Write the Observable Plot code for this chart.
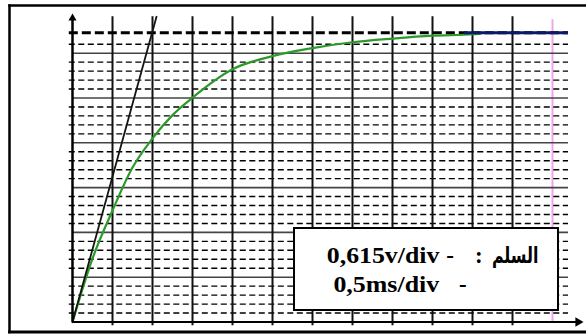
<!DOCTYPE html>
<html><head><meta charset="utf-8">
<script src="https://cdn.jsdelivr.net/npm/d3@7"></script>
<script src="https://cdn.jsdelivr.net/npm/@observablehq/plot@0.6"></script>
<style>
html,body{margin:0;padding:0;background:#fff;overflow:hidden}
#wrap{position:relative;width:586px;height:334px}
#legend{position:absolute;left:0;top:0;pointer-events:none}
</style></head><body><div id="wrap"></div>
<script>
// scale of the oscilloscope screen
const VOLT_PER_DIV = 0.615;
const MS_PER_DIV = 0.5;

// charging curve: time (ms) and tension (V)
const times = [0, 0.25, 0.5, 0.75, 1.0, 1.25, 1.5, 2.0, 2.5, 3.0, 3.5, 4.0, 4.5, 5.0, 5.1];
const volts = [0, 0.87, 1.53, 2.12, 2.52, 2.84, 3.08, 3.47, 3.65, 3.76, 3.84, 3.89, 3.93, 3.95, 3.96];

// asymptote E (V), tangent at origin, plateau trace, pink marker
const E = 3.97;
const tangentT = [0, 1.05];
const tangentU = [0, 4.19];
const plateauT = [4.9, 6.2];
const markerT = 6.0;

// screen grid (divisions)
const majorTdiv = [1, 2, 3, 4, 5, 6, 7, 8, 9, 10, 11];
const majorUdiv = [1, 2, 3, 4, 5, 6];
const minorUdiv = [0.2, 0.4, 0.6, 0.8, 1.2, 1.4, 1.6, 1.8, 2.2, 2.4, 2.6, 2.8,
                   3.2, 3.4, 3.6, 3.8, 4.2, 4.4, 4.6, 4.8, 5.2, 5.4, 5.6, 5.8, 6.2];
const gridTopU = 4.19, gridRightT = 6.2, axisTopU = 4.17, axisRightT = 6.32;

// legend texts
const scaleLabel = "السلم";
const voltLabel = "0,615v/div";
const timeLabel = "0,5ms/div";

const curve = times.map((t, i) => ({t, u: volts[i]}));
const tangent = tangentT.map((t, i) => ({t, u: tangentU[i]}));
const majorT = majorTdiv.map(d => d * MS_PER_DIV);
const majorU = majorUdiv.map(d => d * VOLT_PER_DIV);
const minorU = minorUdiv.map(d => d * VOLT_PER_DIV);

const chart = Plot.plot({
  width: 586, height: 334,
  marginLeft: 9, marginTop: 5, marginBottom: 2.5, marginRight: 0,
  x: {domain: [0, 12.8 * MS_PER_DIV], range: [72, 584], axis: null},
  y: {domain: [0, 7 * VOLT_PER_DIV], range: [321.5, 7.9], axis: null},
  marks: [
    Plot.frame({anchor: "left", strokeWidth: 2.5}),
    Plot.frame({anchor: "top", strokeWidth: 2.5}),
    Plot.frame({anchor: "bottom", strokeWidth: 3}),
    Plot.ruleX([markerT], {y1: 0, y2: 4.15, stroke: "#f0a4ee", strokeWidth: 2}),
    Plot.ruleY(majorU, {x1: 0, x2: gridRightT, stroke: "#444", strokeWidth: 1.6}),
    Plot.ruleY(minorU, {x1: -0.04, x2: gridRightT, stroke: "#000", strokeWidth: 1.4, strokeDasharray: "6,3.5"}),
    Plot.ruleX(majorT, {y1: -0.05, y2: gridTopU, stroke: "#111", strokeWidth: 2}),
    Plot.ruleY([E], {x1: -0.04, x2: gridRightT, stroke: "#000", strokeWidth: 3, strokeDasharray: "9,4"}),
    Plot.line(curve, {x: "t", y: "u", stroke: "#2b9a2b", strokeWidth: 2.2, curve: "monotone-x"}),
    Plot.ruleY([E], {x1: plateauT[0], x2: plateauT[1], stroke: "#0c1a66", strokeWidth: 3}),
    Plot.line(tangent, {x: "t", y: "u", stroke: "#151510", strokeWidth: 1.8}),
    Plot.ruleX([0], {y1: 0, y2: axisTopU, stroke: "#000", strokeWidth: 2.5}),
    Plot.ruleY([0], {x1: 0, x2: axisRightT, stroke: "#000", strokeWidth: 2}),
    Plot.dot([{t: 0, u: axisTopU}], {x: "t", y: "u", symbol: "triangle", r: 3, fill: "#000", stroke: null}),
    Plot.dot([{t: axisRightT, u: 0}], {x: "t", y: "u", symbol: "triangle", r: 3.5, fill: "#000", stroke: null, rotate: 90})
  ]
});
const wrap = document.getElementById("wrap");
wrap.appendChild(chart);

// scale box (legend) drawn as an overlay
const svg = d3.create("svg").attr("id", "legend").attr("width", 586).attr("height", 334)
  .style("font-family", '"Liberation Serif","Times New Roman",serif').style("font-weight", "bold");
svg.append("rect").attr("x", 294).attr("y", 228).attr("width", 264).attr("height", 82)
  .attr("fill", "#fff").attr("stroke", "#000").attr("stroke-width", 2);
const t = (txt, x, y, opts = {}) => {
  const el = svg.append("text").attr("x", x).attr("y", y).attr("font-size", opts.size || 23).text(txt);
  if (opts.len) el.attr("textLength", opts.len).attr("lengthAdjust", "spacingAndGlyphs");
  if (opts.anchor) el.attr("text-anchor", opts.anchor);
  if (opts.family) el.style("font-family", opts.family);
  return el;
};
t(voltLabel, 326.8, 262.7, {len: 112.5});
t("-", 446.3, 262.7);
t(":", 475, 262.7);
t(scaleLabel, 538.5, 262.7, {len: 46.6, anchor: "end", family: '"DejaVu Sans",sans-serif', size: 22});
t(timeLabel, 333.4, 291.7, {len: 105.8});
t("-", 459, 291.7);
wrap.appendChild(svg.node());
</script>
</body></html>
